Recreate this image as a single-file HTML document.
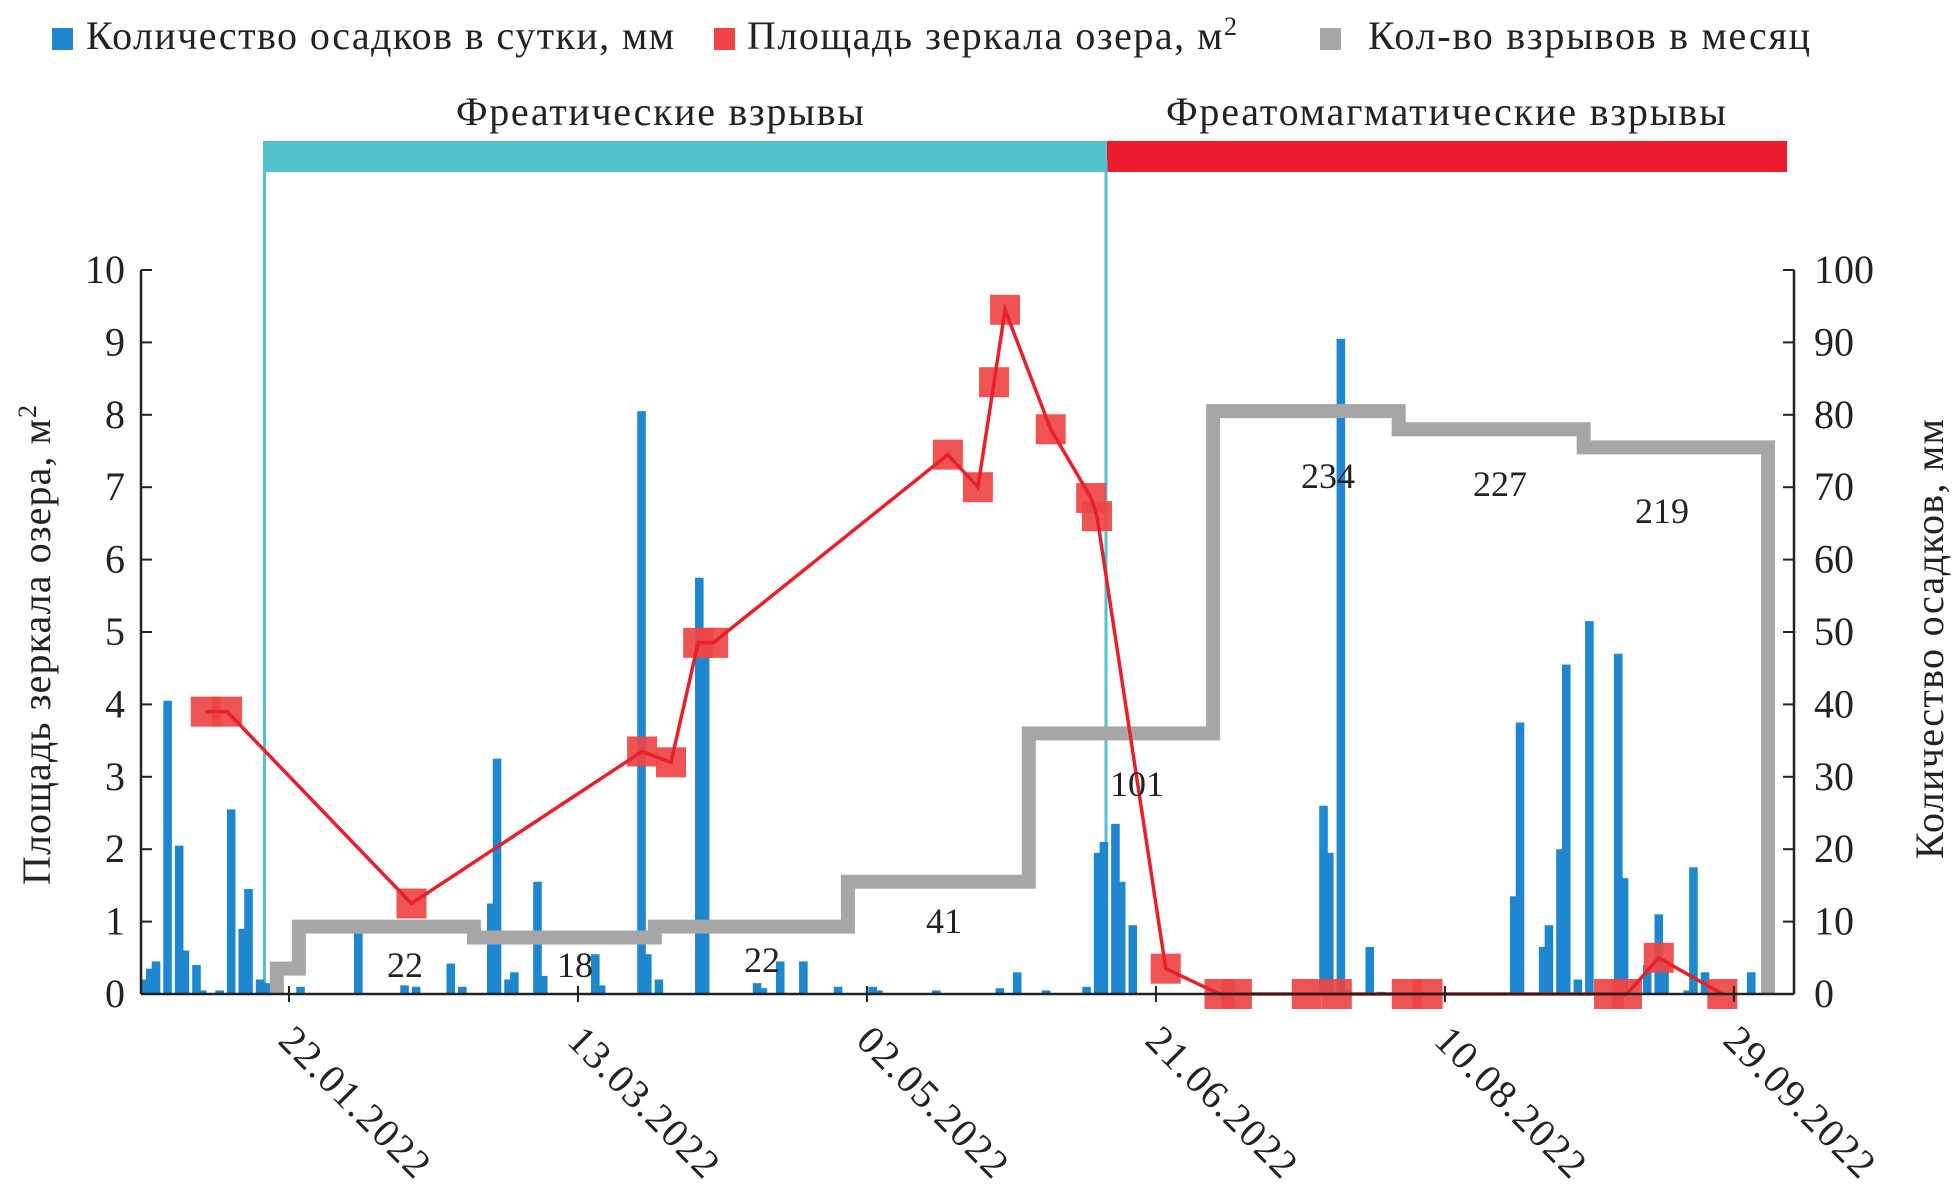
<!DOCTYPE html>
<html><head><meta charset="utf-8"><style>
html,body{margin:0;padding:0;background:#fff;}
svg{display:block;}
svg text{font-family:"Liberation Serif","DejaVu Serif",serif;}
</style></head><body>
<svg id="chart" width="1953" height="1190" viewBox="0 0 1953 1190" xmlns="http://www.w3.org/2000/svg" font-family="Liberation Serif, DejaVu Serif, serif">
<g>
  <rect x="52" y="28" width="21" height="22" fill="#1f87d0"/>
  <text x="86" y="49" font-size="40" textLength="588" fill="#222">Количество осадков в сутки, мм</text>
  <rect x="714" y="28" width="21" height="22" fill="#ee4444"/>
  <text x="747" y="49" font-size="40" textLength="490" fill="#222">Площадь зеркала озера, м<tspan font-size="26" dy="-14">2</tspan></text>
  <rect x="1320" y="28" width="21" height="22" fill="#a6a6a6"/>
  <text x="1368" y="49" font-size="40" textLength="442" fill="#222">Кол-во взрывов в месяц</text>
</g>
<g>
  <text x="660" y="125" font-size="40" text-anchor="middle" textLength="408" fill="#222">Фреатические взрывы</text>
  <text x="1446" y="125" font-size="40" text-anchor="middle" textLength="560" fill="#222">Фреатомагматические взрывы</text>
  <rect x="263" y="141" width="844" height="31" fill="#52c3cc"/>
  <rect x="1107" y="141" width="680" height="31" fill="#ec1c2e"/>
  <line x1="264.5" y1="160" x2="264.5" y2="990" stroke="#52c3cc" stroke-width="3"/>
  <line x1="1106" y1="160" x2="1106" y2="990" stroke="#52c3cc" stroke-width="3"/>
</g>
<g id="bars"></g>
<g id="steps"></g>
<g id="area"></g>
<g id="axes"></g>
<g font-size="36" fill="#222">
  <text x="405" y="977" text-anchor="middle">22</text>
  <text x="575" y="977" text-anchor="middle">18</text>
  <text x="762" y="972" text-anchor="middle">22</text>
  <text x="944" y="933" text-anchor="middle">41</text>
  <text x="1137" y="796" text-anchor="middle">101</text>
  <text x="1328" y="488" text-anchor="middle">234</text>
  <text x="1500" y="496" text-anchor="middle">227</text>
  <text x="1662" y="523" text-anchor="middle">219</text>
</g>
<text transform="translate(50,645) rotate(-90)" font-size="40" text-anchor="middle" textLength="480" fill="#222">Площадь зеркала озера, м<tspan font-size="26" dy="-14">2</tspan></text>
<text transform="translate(1943,639) rotate(-90)" font-size="40" text-anchor="middle" textLength="440" fill="#222">Количество осадков, мм</text>
</svg>
<script>
// data (day index: 0 = 01.01.2022)
const precipDays = [-4,-3,-2,0,2,3,5,6,9,11,13,14,16,17,19,23,33,41,43,49,51,56,57,59,60,64,65,74,75,82,83,85,92,93,102,103,106,110,116,122,123,133,144,147,152,159,161,162,164,165,167,200,201,203,204,208,210,233,234,238,239,241,242,244,246,251,252,256,258,259,263,264,266,274];
const precipMm = [2,3.5,4.5,40.5,20.5,6,4,0.5,0.5,25.5,9,14.5,2,1.5,1.5,1,10,1.2,1,4.2,1,12.5,32.5,2,3,15.5,2.5,5.5,1.2,80.5,5.5,2,57.5,49,1.5,0.8,4.5,4.5,1,1,0.5,0.5,0.8,3,0.5,1,19.5,21,23.5,15.5,9.5,26,19.5,90.5,0.5,6.5,0.3,13.5,37.5,6.5,9.5,20,45.5,2,51.5,47,16,4,11,4,0.5,17.5,3,3];
const areaDays = [6.6,10.3,42.2,82.1,87.1,91.8,94.4,135,140.2,143,144.9,152.8,159.8,160.8,172.7,182,185,197.1,202.3,214.4,218,249.4,252.5,258,269];
const areaValues = [3.9,3.9,1.25,3.35,3.2,4.85,4.85,7.45,7.0,8.45,9.45,7.8,6.85,6.6,0.35,0,0,0,0,0,0,0,0,0.5,0];
const stepBounds = [18.9,22.7,53,84.3,117.7,149,180.9,213,245,276.9];
const stepValues = [3.5,9.3,7.8,9.3,15.5,36,80.5,78,75.5];
const leftTicks = [0,1,2,3,4,5,6,7,8,9,10];
const rightTicks = [0,10,20,30,40,50,60,70,80,90,100];
const dateTicks = [21,71,121,171,221,271];
const dateLabels = ["22.01.2022","13.03.2022","02.05.2022","21.06.2022","10.08.2022","29.09.2022"];

const NS="http://www.w3.org/2000/svg";
const X0=141,X1=1794,Y0=994,Y1=270, D0=-4.6, D1=281.4;
const x = d => X0+(d-D0)*(X1-X0)/(D1-D0);
const yL = v => Y0-(v/10)*(Y0-Y1);
const yR = v => Y0-(v/100)*(Y0-Y1);
function mk(tag, attrs, parent){const e=document.createElementNS(NS,tag);for(const k in attrs)e.setAttribute(k,attrs[k]);parent.appendChild(e);return e;}

const bars=document.getElementById('bars');


const BW=8.6;
precipDays.forEach((d,i)=>{
  const r=mk('rect',{x:x(d)-BW/2,y:yR(precipMm[i]),width:BW,height:Y0-yR(precipMm[i]),fill:'#1f87d0'},bars);
  
  
});

const steps=document.getElementById('steps');


let p=`M${x(stepBounds[0])},${Y0}`;
stepValues.forEach((v,i)=>{p+=` L${x(stepBounds[i])},${yR(v)} L${x(stepBounds[i+1])},${yR(v)}`;});
p+=` L${x(stepBounds[stepBounds.length-1])},${Y0}`;
const sp=mk('path',{d:p,fill:'none',stroke:'#a6a6a6','stroke-width':14,'stroke-linejoin':'miter'},steps);



const area=document.getElementById('area');


areaDays.forEach((d,i)=>{
  const m=mk('rect',{x:x(d)-15,y:yL(areaValues[i])-15,width:30,height:30,fill:'#ee4444',opacity:0.92},area);
  
  
});
const lp=mk('polyline',{points:areaDays.map((d,i)=>x(d)+','+yL(areaValues[i])).join(' '),fill:'none',stroke:'#e8202a','stroke-width':3.5},area);



const ax=document.getElementById('axes');


const la=mk('line',{x1:X0,y1:Y1,x2:X0,y2:Y0,stroke:'#222','stroke-width':2.5},ax);


const ra=mk('line',{x1:X1,y1:Y1,x2:X1,y2:Y0,stroke:'#222','stroke-width':2.5},ax);


const ba=mk('line',{x1:X0,y1:Y0,x2:X1,y2:Y0,stroke:'#222','stroke-width':2.5},ax);


leftTicks.forEach(v=>{
  mk('line',{x1:X0,y1:yL(v),x2:X0+11,y2:yL(v),stroke:'#222','stroke-width':2},ax);
  const t=mk('text',{x:X0-16,y:yL(v)+13,'font-size':40,'text-anchor':'end',fill:'#222'},ax);
  t.textContent=v;
  
  
});
rightTicks.forEach(v=>{
  mk('line',{x1:X1-11,y1:yR(v),x2:X1,y2:yR(v),stroke:'#222','stroke-width':2},ax);
  const t=mk('text',{x:X1+20,y:yR(v)+13,'font-size':40,fill:'#222'},ax);
  t.textContent=v;
  
  
});
dateTicks.forEach((d,i)=>{
  mk('line',{x1:x(d),y1:Y0-8,x2:x(d),y2:Y0+8,stroke:'#222','stroke-width':2},ax);
  const tx=x(d)+8, ty=1022;
  const t=mk('text',{x:tx,y:ty,transform:`rotate(45 ${tx} ${ty})`,'font-size':40,'dominant-baseline':'hanging',textLength:195,fill:'#222'},ax);
  t.textContent=dateLabels[i];
  
  
});
</script>
</body></html>
